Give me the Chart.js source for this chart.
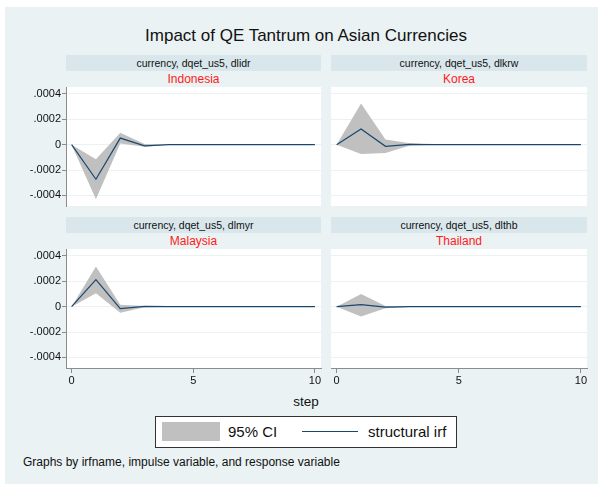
<!DOCTYPE html>
<html>
<head>
<meta charset="utf-8">
<script src="https://cdn.jsdelivr.net/npm/chart.js@4"></script>
<style>
  html, body { margin: 0; padding: 0; background: #fff; overflow: hidden; }
  body { width: 598px; height: 484px; position: relative; font-family: "Liberation Sans", Arial, sans-serif; color: #111; }
  .abs { position: absolute; }
  #bg { left: 5px; top: 7px; width: 593px; height: 477px; background: #EAF2F3; }
  .strip { background: #D9E6EB; font-size: 10.5px; line-height: 16px; height: 16px; text-align: center; white-space: nowrap; }
  .country { color: #FF1A1A; font-size: 12px; line-height: 14px; text-align: center; }
  canvas { position: absolute; }
</style>
</head>
<body>
<div id="bg" class="abs"></div>
<div class="abs" style="left:106px;top:26px;width:400px;text-align:center;font-size:17px;line-height:20px;">Impact of QE Tantrum on Asian Currencies</div>
<div id="labels"></div>

<canvas id="p0" width="315" height="123" style="left:8px;top:85px"></canvas>
<canvas id="p1" width="260" height="123" style="left:329px;top:85px"></canvas>
<canvas id="p2" width="315" height="143" style="left:8px;top:247px"></canvas>
<canvas id="p3" width="260" height="143" style="left:329px;top:247px"></canvas>

<div class="abs" style="left:256px;top:393px;width:100px;text-align:center;font-size:13.5px;line-height:17px;">step</div>
<div class="abs" style="left:155px;top:416px;width:302px;height:32px;box-sizing:border-box;border:1px solid #333;background:#fff;"></div>
<div class="abs" style="left:162px;top:422px;width:58px;height:19px;background:#C0C0C0;"></div>
<div class="abs" style="left:228px;top:423px;font-size:15px;line-height:17px;">95% CI</div>
<div class="abs" style="left:302px;top:431px;width:56px;height:1.3px;background:#1A476F;"></div>
<div class="abs" style="left:368px;top:423px;font-size:15px;line-height:17px;">structural irf</div>
<div class="abs" style="left:23px;top:455px;font-size:12px;line-height:14px;white-space:nowrap;">Graphs by irfname, impulse variable, and response variable</div>

<script>
// steps 0..10
const steps = [0, 1, 2, 3, 4, 5, 6, 7, 8, 9, 10];
const xTicks = [0, 5, 10];
const yTicks = [0.0004, 0.0002, 0, -0.0002, -0.0004];
const yTickLabels = ['.0004', '.0002', '0', '-.0002', '-.0004'];

const panelTitles = ['currency, dqet_us5, dlidr', 'currency, dqet_us5, dlkrw', 'currency, dqet_us5, dlmyr', 'currency, dqet_us5, dlthb'];
const countries = ['Indonesia', 'Korea', 'Malaysia', 'Thailand'];

// structural irf
const idrIrf = [0, -0.000273, 0.000052, -0.00001, 0, 0, 0, 0, 0, 0, 0];
const krwIrf = [0, 0.000123, -0.000013, 0.000002, 0, 0, 0, 0, 0, 0, 0];
const myrIrf = [0, 0.000214, -0.000015, 0.000003, 0, 0, 0, 0, 0, 0, 0];
const thbIrf = [0, 0.000016, -0.000004, 0.000001, 0, 0, 0, 0, 0, 0, 0];

// 95% CI bounds
const idrHi = [0, -0.000116, 0.000094, 0.000005, 0, 0, 0, 0, 0, 0, 0];
const idrLo = [0, -0.00043, 0.00001, -0.000016, 0, 0, 0, 0, 0, 0, 0];
const krwHi = [0, 0.000325, 0.00004, 0.000012, 0, 0, 0, 0, 0, 0, 0];
const krwLo = [0, -0.000073, -0.000065, -0.000006, 0, 0, 0, 0, 0, 0, 0];
const myrHi = [0, 0.000317, 0.000016, 0.000006, 0, 0, 0, 0, 0, 0, 0];
const myrLo = [0, 0.000105, -0.000048, -0.000004, 0, 0, 0, 0, 0, 0, 0];
const thbHi = [0, 0.0001, 0.000006, 0.000002, 0, 0, 0, 0, 0, 0, 0];
const thbLo = [0, -0.000077, -0.000012, -0.000002, 0, 0, 0, 0, 0, 0, 0];

const irfs = [idrIrf, krwIrf, myrIrf, thbIrf];
const his = [idrHi, krwHi, myrHi, thbHi];
const los = [idrLo, krwLo, myrLo, thbLo];

// strip + country label boxes
const boxes = [
  { left: 66, width: 255, top: 55 },
  { left: 331, width: 256, top: 55 },
  { left: 66, width: 255, top: 217 },
  { left: 331, width: 256, top: 217 }
];
const labelsEl = document.getElementById('labels');
boxes.forEach((b, i) => {
  labelsEl.insertAdjacentHTML('beforeend', `
    <div class="abs strip" style="left:${b.left}px;top:${b.top}px;width:${b.width}px;">${panelTitles[i]}</div>
    <div class="abs country" style="left:${b.left}px;top:${b.top + 17}px;width:${b.width}px;">${countries[i]}</div>`);
});

const pts = arr => steps.map((s, i) => ({ x: s, y: arr[i] }));
const axisGray = '#8c8c8c';
const font = { family: '"Liberation Sans", Arial, sans-serif', size: 11 };

function makePanel(i) {
  const isLeft = i % 2 === 0;
  const isBottom = i >= 2;
  new Chart(document.getElementById('p' + i), {
    type: 'line',
    data: {
      datasets: [
        { data: pts(his[i]), order: 2, borderWidth: 0, pointRadius: 0, backgroundColor: '#C0C0C0', fill: '+1', tension: 0 },
        { data: pts(los[i]), order: 2, borderWidth: 0, pointRadius: 0, backgroundColor: '#C0C0C0', fill: false, tension: 0 },
        { data: pts(irfs[i]), order: 0, borderColor: '#1A476F', borderWidth: 1.2, pointRadius: 0, fill: false, tension: 0 }
      ]
    },
    options: {
      responsive: false,
      animation: false,
      layout: { padding: { top: 2, right: 2, bottom: 2, left: 2 } },
      plugins: { legend: { display: false }, tooltip: { enabled: false } },
      scales: {
        x: {
          type: 'linear',
          min: -0.23,
          max: 10.25,
          display: isBottom,
          afterBuildTicks: s => { s.ticks = xTicks.map(v => ({ value: v })); },
          afterFit: s => { if (isBottom) s.height = 20; s.paddingLeft = 0; s.paddingRight = 0; },
          grid: { drawOnChartArea: false, drawTicks: true, tickLength: 5, tickColor: axisGray },
          border: { display: true, color: axisGray, width: 1 },
          ticks: { color: '#111', font: font, padding: 1, maxRotation: 0, autoSkip: false }
        },
        y: {
          type: 'linear',
          min: -0.000484,
          max: 0.000455,
          afterBuildTicks: s => { s.ticks = yTicks.map(v => ({ value: v })); },
          afterFit: s => { s.width = isLeft ? 56 : 0; s.paddingTop = 0; s.paddingBottom = 0; },
          grid: { color: '#EAF2F3', lineWidth: 1, drawTicks: isLeft, tickLength: 4, tickColor: axisGray },
          border: { display: isLeft, color: axisGray, width: 1 },
          ticks: {
            display: isLeft,
            color: '#111',
            font: font,
            padding: 1,
            autoSkip: false,
            callback: v => {
              const k = yTicks.findIndex(t => Math.abs(t - v) < 1e-9);
              return k >= 0 ? yTickLabels[k] : '';
            }
          }
        }
      }
    },
    plugins: [{
      id: 'plotBg',
      beforeDraw(chart) {
        const a = chart.chartArea, c = chart.ctx;
        c.save();
        c.fillStyle = '#fff';
        c.fillRect(a.left, a.top, a.right - a.left, a.bottom - a.top);
        c.restore();
      }
    }]
  });
}

[0, 1, 2, 3].forEach(makePanel);
</script>
</body>
</html>
